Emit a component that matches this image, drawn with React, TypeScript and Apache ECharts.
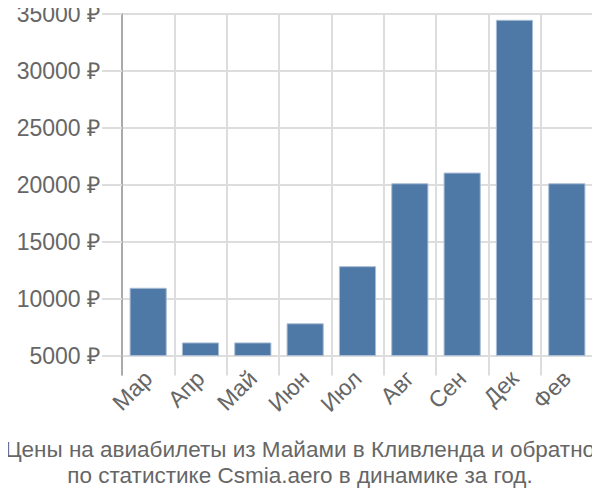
import React, { useEffect, useRef } from "react";
import * as echarts from "echarts";

const categories = ["Мар", "Апр", "Май", "Июн", "Июл", "Авг", "Сен", "Дек", "Фев"];
const prices = [10950, 6150, 6150, 7830, 12850, 20130, 21070, 34490, 20130];
const yTicks = { min: 5000, max: 35000, interval: 5000 };
const titleLines = [
  "Цены на авиабилеты из Майами в Кливленда и обратно",
  "по статистике Csmia.aero в динамике за год.",
];

export default function App() {
  const ref = useRef<HTMLDivElement>(null);
  useEffect(() => {
    if (!ref.current) return;
    const chart = echarts.init(ref.current, null, { renderer: "svg" });
    const font = "'Liberation Sans', Arial, sans-serif";
    chart.setOption({
      animation: false,
      grid: { left: 122, right: 7, top: 14, bottom: 144.5, containLabel: false },
      title: {
        text: titleLines.join("\n"),
        left: "center",
        top: 431,
        textStyle: {
          color: "#666",
          fontSize: 22.5,
          fontWeight: "normal",
          fontFamily: font,
          lineHeight: 26,
        },
      },
      xAxis: {
        type: "category",
        data: categories,
        axisLine: { show: false },
        axisTick: { show: true, length: 20, lineStyle: { color: "#ddd", width: 2 } },
        splitLine: { show: true, lineStyle: { color: "#ddd", width: 2 } },
        axisLabel: {
          rotate: 45,
          margin: 19,
          color: "#666",
          fontSize: 23,
          fontFamily: font,
        },
      },
      yAxis: {
        type: "value",
        min: yTicks.min,
        max: yTicks.max,
        interval: yTicks.interval,
        axisLine: { show: true, lineStyle: { color: "#aaa", width: 2 } },
        axisTick: { show: true, length: 20, lineStyle: { color: "#ddd", width: 2 } },
        splitLine: { show: true, lineStyle: { color: "#ddd", width: 2 } },
        axisLabel: {
          margin: 22,
          color: "#666",
          fontSize: 23,
          fontFamily: font,
          formatter: (v: number) => `${v} ₽`,
        },
      },
      graphic: [
        {
          type: "line",
          shape: { x1: 122, y1: 355.5, x2: 122, y2: 375.5 },
          style: { stroke: "#aaa", lineWidth: 2 },
          z: 10,
        },
      ],
      series: [
        {
          type: "bar",
          data: prices,
          barCategoryGap: "29%",
          itemStyle: { color: "#4e78a6", borderColor: "#a9bdd4", borderWidth: 1 },
        },
      ],
    });
    return () => chart.dispose();
  }, []);
  return <div ref={ref} style={{ width: 600, height: 500, margin: -8 }} />;
}
